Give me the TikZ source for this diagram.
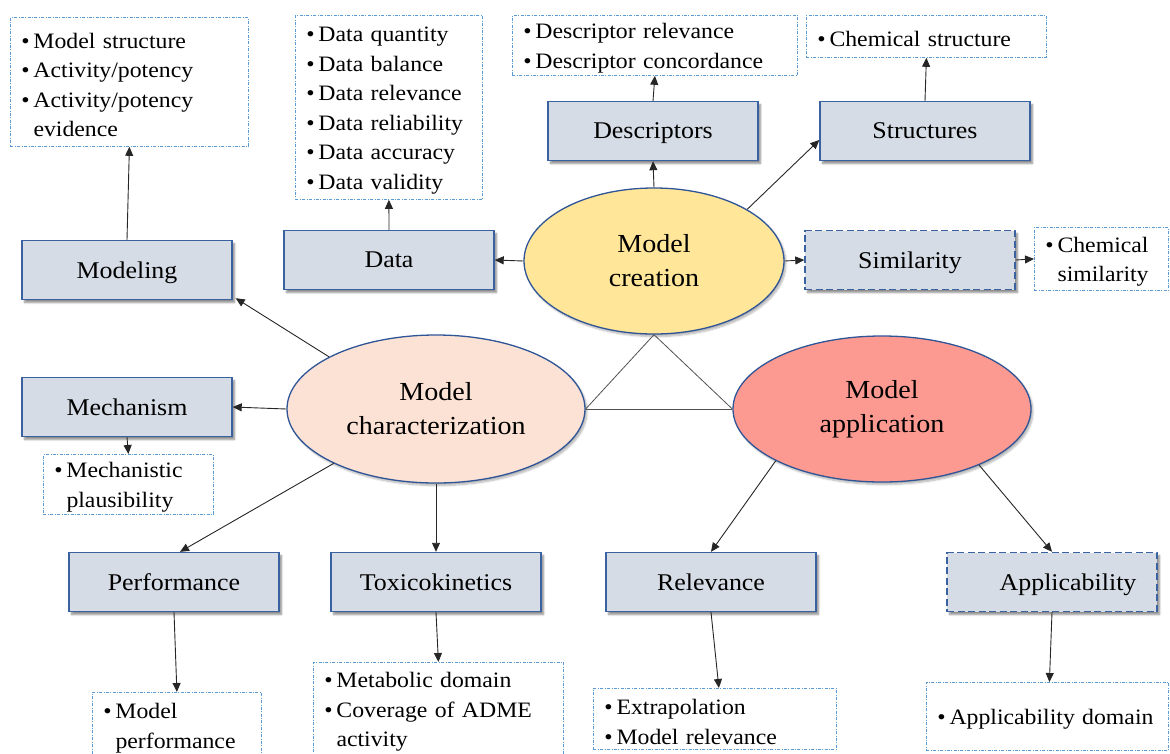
\documentclass[tikz,border=0pt]{standalone}
\usepackage{fontspec}
\setmainfont[FakeStretch=1.08]{Liberation Serif}
\usetikzlibrary{arrows.meta,shapes.geometric,shadows.blur}

\definecolor{boxfill}{HTML}{D6DCE5}
\definecolor{boxline}{HTML}{3A62A0}
\definecolor{infoline}{HTML}{5B9BD5}
\definecolor{creafill}{HTML}{FFE699}
\definecolor{charfill}{HTML}{FCE2D4}
\definecolor{applfill}{HTML}{FC9A92}
\definecolor{ellline}{HTML}{2F5597}
\definecolor{conn}{HTML}{262626}

\newcommand\ibul{\makebox[0.55em][l]{•}}
\newcommand\iind{\hspace*{0.55em}}

\tikzset{
  mainbox/.style={draw=boxline, line width=1.4pt, fill=boxfill,
    minimum width=210pt, minimum height=59pt, inner sep=0pt, text depth=0pt,
    font=\fontsize{24}{28}\selectfont,
    blur shadow={shadow xshift=2.5pt, shadow yshift=-3pt, shadow blur steps=6, shadow opacity=45}},
  dashbox/.style={mainbox, dash pattern=on 7pt off 3.5pt},
  hub/.style={ellipse, draw=ellline, line width=1.3pt, inner sep=0pt,
    align=center, font=\fontsize{26}{34}\selectfont,
    blur shadow={shadow xshift=2pt, shadow yshift=-2.5pt, shadow blur steps=6, shadow opacity=30}},
  info/.style={draw=infoline, line width=0.8pt,
    dash pattern=on 3pt off 1.5pt on 0.8pt off 1.5pt,
    anchor=north west, align=left, inner xsep=11pt, inner ysep=0pt,
    font=\fontsize{22}{29.5}\selectfont,
    execute at begin node={\rule{0pt}{21pt}}},
  arr/.style={draw=conn, line width=0.9pt, -{Triangle[length=9pt,width=8pt]}},
  link/.style={draw=conn!80, line width=0.8pt},
}

\begin{document}
\begin{tikzpicture}[x=1pt,y=-1pt]
\useasboundingbox (0,0) rectangle (1170,753);

% hubs
\node[hub, fill=creafill, minimum width=260pt, minimum height=146pt] (cr) at (654,261) {Model\\creation};
\node[hub, fill=charfill, minimum width=298pt, minimum height=148pt] (ch) at (436,409) {Model\\characterization};
\node[hub, fill=applfill, minimum width=298pt, minimum height=146pt] (ap) at (882,409) {Model\\application};

% main boxes
\node[mainbox] (modl) at (127,270) {Modeling};
\node[mainbox] (data) at (389,260) {Data};
\node[mainbox] (desc) at (653,131) {Descriptors};
\node[mainbox] (stru) at (925,131) {Structures};
\node[dashbox] (simi) at (910,260) {Similarity};
\node[mainbox] (mech) at (127,407) {Mechanism};
\node[mainbox] (perf) at (174,582) {Performance};
\node[mainbox] (toxk) at (436,582) {Toxicokinetics};
\node[mainbox] (relv) at (711,582) {Relevance};
\node[dashbox] (appl) at (1052,582) {\hspace*{32pt}Applicability};

% detail lists
\node[info, text width=216pt, minimum height=129pt] (modli) at (10,17)
  {\ibul Model structure\\\ibul Activity/potency\\\ibul Activity/potency\\\iind evidence};
\node[info, text width=165pt, minimum height=184pt] (datai) at (295,15)
  {\ibul Data quantity\\\ibul Data balance\\\ibul Data relevance\\\ibul Data reliability\\\ibul Data accuracy\\\ibul Data validity};
\node[info, text width=263pt, minimum height=60pt] (desci) at (512,15)
  {\ibul Descriptor relevance\\\ibul Descriptor concordance};
\node[info, text width=218pt, minimum height=42pt] (strui) at (806,15)
  {\ibul Chemical structure};
\node[info, text width=112pt, minimum height=63pt] (simii) at (1034,227)
  {\ibul Chemical\\\iind similarity};
\node[info, text width=148pt, minimum height=60pt] (mechi) at (43,454)
  {\ibul Mechanistic\\\iind plausibility};
\node[info, text width=147pt, minimum height=66pt] (perfi) at (92,692)
  {\ibul Model\\\iind performance};
\node[info, text width=228pt, minimum height=93pt] (toxki) at (313,662)
  {\ibul Metabolic domain\\\ibul Coverage of ADME\\\iind activity};
\node[info, text width=221pt, minimum height=61pt] (relvi) at (593,688)
  {\ibul Extrapolation\\\ibul Model relevance};
\node[info, text width=220pt, minimum height=68pt] (appli) at (926,682)
  {\ibul Applicability domain};

% triangle between the three hubs
\coordinate (crb) at (cr.south);
\draw[link] (crb) -- (ch.east);
\draw[link] (crb) -- (ap.west);
\draw[link] (ch.east) -- (ap.west);

% model creation branches
\draw[arr] (cr.west) -- (data.east);
\draw[arr] (cr.east) -- (simi.west);
\draw[arr] (cr.north) -- (desc.south);
\draw[arr] (cr.29) -- ([yshift=-9pt]stru.west);
\draw[arr] (data.north) -- (datai.south);
\draw[arr] (desc.north) -- (desci.south);
\draw[arr] (stru.north) -- (strui.south);
\draw[arr] (simi.east) -- (simii.west);

% model characterization branches
\draw[arr] (ch.154) -- ([xshift=3pt,yshift=2pt]modl.south east);
\draw[arr] (ch.west) -- (mech.east);
\draw[arr] (ch.208) -- ([xshift=6pt]perf.north);
\draw[arr] (ch.south) -- (toxk.north);
\draw[arr] (modl.north) -- (modli.south);
\draw[arr] (mech.south) -- (mechi.north);
\draw[arr] (perf.south) -- (perfi.north);
\draw[arr] (toxk.south) -- (toxki.north);

% model application branches
\draw[arr] (ap.206) -- (relv.north);
\draw[arr] (ap.330) -- (appl.north);
\draw[arr] (relv.south) -- ([xshift=4pt]relvi.north);
\draw[arr] (appl.south) -- ([xshift=2pt]appli.north);
\end{tikzpicture}
\end{document}
